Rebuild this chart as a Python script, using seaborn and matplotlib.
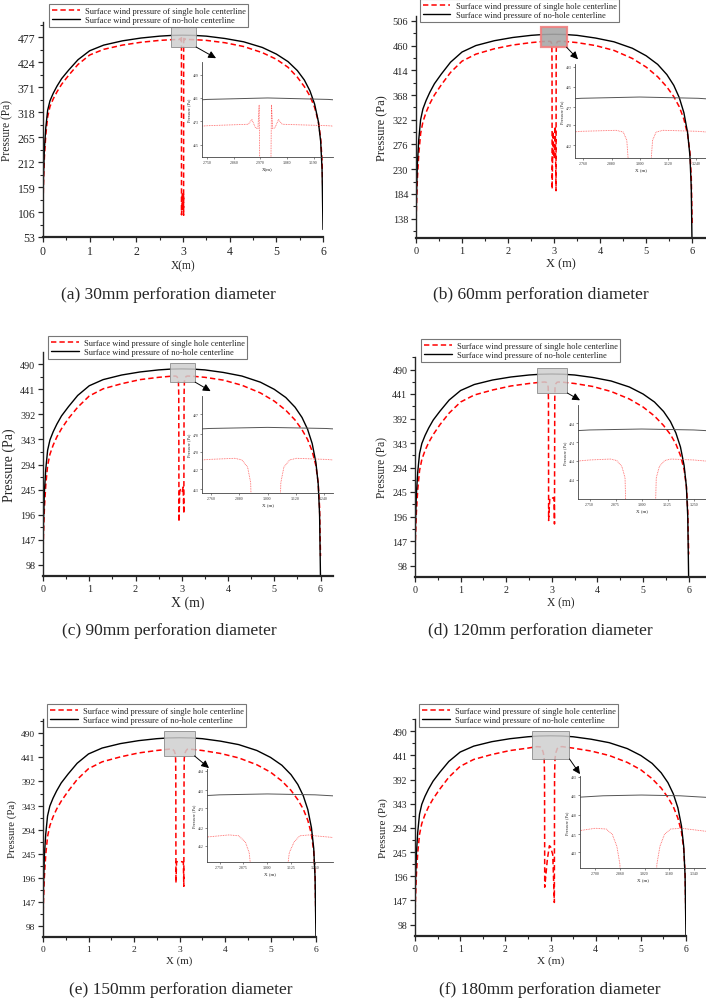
import numpy as np
import pandas as pd
import matplotlib
matplotlib.use("Agg")
import matplotlib.pyplot as plt
import matplotlib.patches as mpatches
from matplotlib.ticker import MultipleLocator, AutoMinorLocator, FormatStrFormatter
import seaborn as sns

sns.set_style("ticks")
plt.rcParams["font.family"] = ["Liberation Serif", "DejaVu Serif"]
plt.rcParams["mathtext.fontset"] = "dejavuserif"

# ---------------- data ----------------
X_GRID = [0.0, 0.01, 0.03, 0.06, 0.1, 0.15, 0.22, 0.3, 0.4, 0.55, 0.75, 1.0, 1.3, 1.7,
          2.1, 2.5, 2.75, 3.0, 3.25, 3.5, 3.9, 4.3, 4.7, 5.0, 5.25, 5.45, 5.6, 5.72,
          5.82, 5.9, 5.95, 5.98, 6.0]

P_NOHOLE = [98, 180, 240, 285, 322, 342, 358, 373, 389, 407, 429, 448, 460, 469, 475, 479,
            480.5, 481, 480.5, 479, 474, 467, 455, 441, 425, 406, 386, 363, 335, 298, 256, 196, 69]

P_SINGLE_A = [110, 165, 222, 270, 308, 330, 346, 361, 377, 396, 419, 439, 451, 460, 466, 470,
              471.5, 472, 471.5, 470, 465, 457, 444, 430, 413, 392, 372, 352, 328, 298, 262, 215, 140]
P_SINGLE_B = [120, 160, 212, 258, 296, 318, 336, 352, 368, 387, 410, 431, 444, 454, 461, 465.5,
              467.5, 468, 467.5, 465.5, 460, 451, 436, 420, 402, 383, 365, 346, 323, 295, 262, 215, 125]
P_SINGLE_C = [115, 155, 208, 254, 292, 314, 332, 348, 364, 384, 406, 428, 442, 452, 460, 464.5,
              466.5, 467, 466.5, 464.5, 459, 449, 434, 418, 400, 381, 362, 343, 320, 292, 258, 210, 115]
P_SINGLE_D = [115, 152, 204, 250, 288, 310, 328, 344, 360, 380, 403, 425, 439, 449, 457, 462,
              464.5, 465, 464.5, 462, 456, 446, 431, 415, 397, 378, 360, 341, 318, 290, 256, 208, 120]
P_SINGLE_E = [110, 148, 198, 243, 280, 302, 320, 336, 352, 372, 396, 418, 432, 442, 450, 455,
              457.5, 458, 457.5, 455, 449, 440, 426, 411, 393, 374, 355, 336, 313, 285, 250, 200, 100]
P_SINGLE_F = [110, 148, 198, 243, 281, 303, 321, 337, 353, 373, 397, 419, 433, 443, 451, 456,
              458.5, 459, 458.5, 456, 450, 441, 427, 412, 394, 375, 356, 337, 314, 286, 251, 201, 100]

# values around the perforation (replace the base curve inside their x-range)
HOLE_A_X = [2.92, 2.935, 2.950, 2.960, 2.965, 2.967, 2.968, 2.990, 3.000, 3.010, 3.013, 3.014,
            3.016, 3.021, 3.030, 3.045, 3.060]
HOLE_A_P = [472.0, 473.6, 470.8, 470.5, 478.5, 462.0, 100.0, 148.0, 110.0, 145.0, 99.0, 462.0,
            478.5, 470.5, 470.8, 473.6, 472.0]
HOLE_B_X = [2.90, 2.930, 2.945, 2.952, 2.955, 2.958, 2.975, 3.000, 3.025, 3.042, 3.045, 3.048,
            3.055, 3.070, 3.100]
HOLE_B_P = [467.9, 467.2, 464.0, 455.0, 430.0, 193.0, 300.0, 250.0, 310.0, 190.0, 430.0, 455.0,
            464.0, 467.2, 467.9]
HOLE_C_X = [2.86, 2.89, 2.915, 2.928, 2.935, 2.940, 2.955, 2.970, 3.010, 3.030, 3.045, 3.050,
            3.057, 3.070, 3.095, 3.125]
HOLE_C_P = [467.0, 466.3, 463.0, 456.0, 430.0, 182.0, 240.0, 245.0, 240.0, 250.0, 198.0, 430.0,
            456.0, 463.0, 466.3, 467.0]
HOLE_D_X = [2.85, 2.88, 2.905, 2.920, 2.926, 2.930, 2.955, 3.050, 3.058, 3.064, 3.070, 3.085,
            3.110, 3.140]
HOLE_D_P = [465.0, 464.2, 461.0, 455.0, 430.0, 188.0, 233.0, 233.0, 181.0, 430.0, 455.0, 461.0,
            464.2, 465.0]
HOLE_E_X = [2.80, 2.85, 2.885, 2.905, 2.915, 2.919, 2.922, 2.935, 3.060, 3.085, 3.095, 3.100,
            3.104, 3.115, 3.140, 3.170, 3.220]
HOLE_E_P = [458.0, 457.5, 454.0, 448.0, 438.0, 400.0, 186.0, 229.0, 229.0, 227.0, 179.0, 400.0,
            438.0, 448.0, 454.0, 457.5, 458.0]
HOLE_F_X = [2.70, 2.77, 2.81, 2.84, 2.86, 2.868, 2.872, 2.930, 2.975, 3.000, 3.050, 3.085,
            3.090, 3.100, 3.120, 3.150, 3.190, 3.260]
HOLE_F_P = [459.0, 458.5, 455.0, 447.0, 435.0, 400.0, 174.0, 230.0, 258.0, 256.0, 240.0, 143.0,
            400.0, 435.0, 447.0, 455.0, 458.5, 459.0]

CAPTIONS = ["(a) 30mm perforation diameter", "(b) 60mm perforation diameter",
            "(c) 90mm perforation diameter", "(d) 120mm perforation diameter",
            "(e) 150mm perforation diameter", "(f) 180mm perforation diameter"]
X_LABELS = ["X(m)", "X (m)", "X (m)", "X (m)", "X (m)", "X (m)"]
Y_LABEL = "Pressure (Pa)"
LEG_SINGLE = "Surface wind pressure of single hole centerline"
LEG_NOHOLE = "Surface wind pressure of no-hole centerline"

Y_TICKS_A = [53, 106, 159, 212, 265, 318, 371, 424, 477]
Y_TICKS_B = [138, 184, 230, 276, 322, 368, 414, 460, 506]
Y_TICKS_CF = [98, 147, 196, 245, 294, 343, 392, 441, 490]
X_TICKS = [0, 1, 2, 3, 4, 5, 6]

ZOOM_BOX_A = [2.74, 3.28, 456, 498]
ZOOM_BOX_B = [2.72, 3.27, 457, 494]
ZOOM_BOX_C = [2.75, 3.29, 455, 493]
ZOOM_BOX_D = [2.68, 3.34, 443, 493]
ZOOM_BOX_E = [2.67, 3.33, 444, 495]
ZOOM_BOX_F = [2.60, 3.42, 434, 491]

INSET_XTICKS_A = [2.75, 2.86, 2.97, 3.08, 3.19]
INSET_XTICKS_B = [2.76, 2.88, 3.00, 3.12, 3.24]
INSET_XTICKS_C = [2.76, 2.88, 3.00, 3.12, 3.24]
INSET_XTICKS_D = [2.75, 2.875, 3.0, 3.125, 3.25]
INSET_XTICKS_E = [2.75, 2.875, 3.0, 3.125, 3.25]
INSET_XTICKS_F = [2.70, 2.86, 3.02, 3.18, 3.34]
INSET_YTICKS_A = [465, 473, 481, 489]
INSET_YTICKS_B = [462, 470, 477, 485, 493]
INSET_YTICKS_C = [453, 462, 470, 478, 487]
INSET_YTICKS_D = [454, 464, 474, 484]
INSET_YTICKS_E = [452, 462, 473, 483, 494]
INSET_YTICKS_F = [443, 455, 468, 481, 493]

# ---------------- layout (pixels) ----------------
W, H = 706, 1004
panels = [
    dict(single=P_SINGLE_A, hx=HOLE_A_X, hp=HOLE_A_P, yt=Y_TICKS_A, box=ZOOM_BOX_A,
         ixt=INSET_XTICKS_A, iyt=INSET_YTICKS_A, xlim=(0, 6.0), ylim=(53, 509),
         ixlim=(2.729, 3.27), iylim=(460.8, 493.3),
         ax_px=(43, 23, 323, 238), in_px=(202, 63, 333, 158), leg=(49, 5), cap=(168, 295),
         tip=(0.107, 1.04), tfs=8.5, lfs=8.3, dark=False),
    dict(single=P_SINGLE_B, hx=HOLE_B_X, hp=HOLE_B_P, yt=Y_TICKS_B, box=ZOOM_BOX_B,
         ixt=INSET_XTICKS_B, iyt=INSET_YTICKS_B, xlim=(0, 6.3), ylim=(102, 515),
         ixlim=(2.724, 3.283), iylim=(457, 494),
         ax_px=(416, 17, 706, 239), in_px=(575, 65, 706, 159), leg=(420, 0), cap=(541, 295),
         tip=(0.023, 1.05), tfs=7.5, lfs=9.0, dark=True),
    dict(single=P_SINGLE_C, hx=HOLE_C_X, hp=HOLE_C_P, yt=Y_TICKS_CF, box=ZOOM_BOX_C,
         ixt=INSET_XTICKS_C, iyt=INSET_YTICKS_C, xlim=(0, 6.27), ylim=(76, 514),
         ixlim=(2.72, 3.28), iylim=(451.3, 495.2),
         ax_px=(43, 353, 333, 577), in_px=(202, 397, 333, 494), leg=(48, 337), cap=(169, 631),
         tip=(0.066, 1.05), tfs=7.3, lfs=10.0, dark=False),
    dict(single=P_SINGLE_D, hx=HOLE_D_X, hp=HOLE_D_P, yt=Y_TICKS_CF, box=ZOOM_BOX_D,
         ixt=INSET_XTICKS_D, iyt=INSET_YTICKS_D, xlim=(0, 6.38), ylim=(75, 515),
         ixlim=(2.694, 3.309), iylim=(443.7, 493.8),
         ax_px=(415, 358, 706, 578), in_px=(578, 406, 706, 500), leg=(421, 340), cap=(540, 631),
         tip=(0.016, 1.05), tfs=7.2, lfs=8.3, dark=False),
    dict(single=P_SINGLE_E, hx=HOLE_E_X, hp=HOLE_E_P, yt=Y_TICKS_CF, box=ZOOM_BOX_E,
         ixt=INSET_XTICKS_E, iyt=INSET_YTICKS_E, xlim=(0, 6.0), ylim=(76, 519),
         ixlim=(2.684, 3.344), iylim=(442.8, 495.0),
         ax_px=(43, 720, 316, 938), in_px=(207, 770, 333, 863), leg=(47, 705), cap=(181, 990),
         tip=(0.016, 1.01), tfs=6.8, lfs=7.8, dark=False),
    dict(single=P_SINGLE_F, hx=HOLE_F_X, hp=HOLE_F_P, yt=Y_TICKS_CF, box=ZOOM_BOX_F,
         ixt=INSET_XTICKS_F, iyt=INSET_YTICKS_F, xlim=(0, 6.0), ylim=(75, 515),
         ixlim=(2.60, 3.42), iylim=(432.7, 493.6),
         ax_px=(415, 720, 686, 937), in_px=(580, 777, 706, 869), leg=(419, 705), cap=(550, 990),
         tip=(0.0, 1.02), tfs=7.0, lfs=8.1, dark=False),
]


def merge(base_x, base_p, hole_x, hole_p):
    keep = [(x, p) for x, p in zip(base_x, base_p) if x < hole_x[0] or x > hole_x[-1]]
    pts = sorted(keep + list(zip(hole_x, hole_p)))
    return pd.DataFrame(pts, columns=["x", "p"])


def px_rect(l, t, r, b):
    return [l / W, 1 - b / H, (r - l) / W, (b - t) / H]


fig = plt.figure(figsize=(W / 100, H / 100), dpi=100)
df_nohole = pd.DataFrame({"x": X_GRID, "p": P_NOHOLE})

for i, s in enumerate(panels):
    df_single = merge(X_GRID, s["single"], s["hx"], s["hp"])
    ax = fig.add_axes(px_rect(*s["ax_px"]))
    sns.lineplot(data=df_single, x="x", y="p", ax=ax, color="#ff0000", lw=1.1,
                 linestyle=(0, (3.5, 2)), estimator=None, sort=False, label=LEG_SINGLE)
    sns.lineplot(data=df_nohole, x="x", y="p", ax=ax, color="black", lw=1.0,
                 estimator=None, sort=False, label=LEG_NOHOLE)
    ax.set_xlim(*s["xlim"])
    ax.set_ylim(*s["ylim"])
    ax.set_xticks(X_TICKS)
    ax.set_yticks(s["yt"])
    ax.xaxis.set_minor_locator(MultipleLocator(0.5))
    ax.yaxis.set_minor_locator(AutoMinorLocator(2))
    ax.tick_params(axis="both", which="major", direction="out", length=3.5, width=0.9,
                   labelsize=s["tfs"], pad=2)
    ax.tick_params(axis="both", which="minor", direction="out", length=2, width=0.8)
    sns.despine(ax=ax)
    ax.spines["left"].set_linewidth(1.0)
    ax.spines["bottom"].set_linewidth(1.6)
    ax.set_xlabel(X_LABELS[i], fontsize=s["lfs"], labelpad=2)
    ax.set_ylabel(Y_LABEL, fontsize=s["lfs"], labelpad=3)

    lx, ly = s["leg"]
    leg = ax.legend(loc="upper left", bbox_to_anchor=(lx / W, 1 - ly / H),
                    bbox_transform=fig.transFigure, fontsize=6.1, frameon=True, fancybox=False,
                    edgecolor="#777777", framealpha=1, borderpad=0.3, handlelength=3.3,
                    handletextpad=0.6, labelspacing=0.2, borderaxespad=0)
    leg.get_frame().set_linewidth(0.8)

    x0, x1, y0, y1 = s["box"]
    if s["dark"]:
        rect = mpatches.Rectangle((x0, y0), x1 - x0, y1 - y0, facecolor="#a8a8a8",
                                  edgecolor="#f08080", lw=1.6, alpha=0.9, zorder=5)
    else:
        rect = mpatches.Rectangle((x0, y0), x1 - x0, y1 - y0, facecolor="#cfcfcf",
                                  edgecolor="#8a8a8a", lw=0.7, alpha=0.85, zorder=5)
    ax.add_patch(rect)

    # inset
    axin = fig.add_axes(px_rect(*s["in_px"]))
    axin.patch.set_alpha(0)
    sns.lineplot(data=df_single, x="x", y="p", ax=axin, color="#ff5a5a", lw=0.6,
                 linestyle=(0, (1, 1)), estimator=None, sort=False, legend=False)
    sns.lineplot(data=df_nohole, x="x", y="p", ax=axin, color="#555555", lw=0.7,
                 estimator=None, sort=False, legend=False)
    axin.set_xlim(*s["ixlim"])
    axin.set_ylim(*s["iylim"])
    axin.set_xticks(s["ixt"])
    axin.set_yticks(s["iyt"])
    axin.xaxis.set_major_formatter(FormatStrFormatter("%.3f"))
    axin.yaxis.set_major_formatter(FormatStrFormatter("%d"))
    axin.tick_params(labelsize=2.8, length=1.5, width=0.4, pad=1, colors="#333333")
    sns.despine(ax=axin)
    for sp in ("left", "bottom"):
        axin.spines[sp].set_linewidth(0.6)
        axin.spines[sp].set_color("#444444")
    axin.set_xlabel(X_LABELS[i], fontsize=3.6, labelpad=1)
    axin.set_ylabel(Y_LABEL, fontsize=3.2, labelpad=1)

    ax.annotate("", xy=s["tip"], xycoords=axin.transAxes, xytext=(x1, y0), textcoords="data",
                arrowprops=dict(arrowstyle="-|>,head_length=0.45,head_width=0.22",
                                color="black", lw=0.7, shrinkA=0, shrinkB=0),
                annotation_clip=False, zorder=6)

    cx, cy = s["cap"]
    fig.text(cx / W, 1 - cy / H, CAPTIONS[i], ha="center", va="center", fontsize=12.5)

fig.savefig("out.png", dpi=100)
